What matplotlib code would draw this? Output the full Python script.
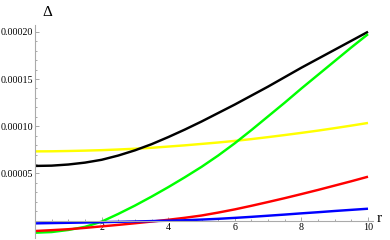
import matplotlib
matplotlib.use("Agg")
import matplotlib.pyplot as plt
from matplotlib.ticker import MultipleLocator, FixedLocator, FuncFormatter

r = [0, 0.5, 1, 1.5, 2, 2.5, 3, 3.5, 4, 4.5, 5, 5.5, 6, 6.5, 7, 7.5, 8, 8.5, 9, 9.5, 10]
scale = 1e-5
black = [5.8, 5.83, 5.95, 6.15, 6.45, 6.9, 7.45, 8.1, 8.85, 9.65, 10.5, 11.4, 12.3, 13.25, 14.2, 15.2, 16.2, 17.15, 18.1, 19.05, 20.0]
yellow = [7.34, 7.35, 7.38, 7.42, 7.47, 7.54, 7.62, 7.72, 7.85, 7.98, 8.13, 8.28, 8.45, 8.64, 8.85, 9.07, 9.3, 9.54, 9.8, 10.07, 10.35]
green = [-1.27, -1.2, -0.98, -0.65, -0.1, 0.72, 1.6, 2.55, 3.55, 4.6, 5.7, 6.9, 8.2, 9.6, 11.05, 12.5, 14.0, 15.45, 16.9, 18.35, 19.75]
red = [-1.09, -1.0, -0.9, -0.76, -0.6, -0.44, -0.27, -0.09, 0.1, 0.31, 0.55, 0.86, 1.2, 1.58, 1.98, 2.39, 2.82, 3.26, 3.72, 4.18, 4.66]
blue = [-0.28, -0.25, -0.22, -0.19, -0.15, -0.12, -0.08, -0.04, 0.0, 0.05, 0.12, 0.2, 0.3, 0.41, 0.53, 0.65, 0.78, 0.9, 1.03, 1.15, 1.27]

xticks = [2, 4, 6, 8, 10]
yticks = [0.00005, 0.00010, 0.00015, 0.00020]

series = [(yellow, (1, 1, 0)), (black, (0, 0, 0)), (green, (0, 1, 0)), (red, (1, 0, 0)), (blue, (0, 0, 1))]

fig = plt.figure(figsize=(3.9, 2.4), dpi=100)
W, H = 390, 240
ax = fig.add_axes([35 / W, (H - 238) / H, 338 / W, 213 / H])
ax.set_facecolor('white')

for vals, col in series:
    ax.plot(r, [v * scale for v in vals], color=col, lw=1.75, solid_capstyle='butt', clip_on=False)

ax.set_xlim(0, 10.15)
ax.set_ylim(-1.83e-5, 2.072e-4)

for s in ['top', 'right']:
    ax.spines[s].set_visible(False)
ax.spines['bottom'].set_position(('data', 0))
ax.spines['left'].set_position(('data', 0))
for s in ['bottom', 'left']:
    ax.spines[s].set_color('#aaaaaa')
    ax.spines[s].set_linewidth(0.8)

ax.xaxis.set_major_locator(FixedLocator(xticks))
ax.xaxis.set_minor_locator(MultipleLocator(0.5))
ax.yaxis.set_major_locator(FixedLocator(yticks))
ax.yaxis.set_minor_locator(MultipleLocator(0.00001))
ax.yaxis.set_major_formatter(FuncFormatter(lambda v, p: f"{v:.5f}"))
ax.xaxis.set_major_formatter(FuncFormatter(lambda v, p: f"{v:g}"))

ax.tick_params(which='both', direction='in', color='#999999', width=0.6, labelsize=7.2, pad=1.5)
ax.tick_params(which='major', length=3)
ax.tick_params(which='minor', length=1.7)
for lab in ax.get_xticklabels() + ax.get_yticklabels():
    lab.set_family('Liberation Serif')

fig.text(47 / W, 1 - 12 / H, 'Δ', ha='center', va='center', fontsize=11, family='Liberation Serif')
fig.text(379 / W, 1 - 218 / H, 'r', ha='center', va='center', fontsize=11, family='Liberation Serif')

fig.savefig('out.png', dpi=100, facecolor='white')
